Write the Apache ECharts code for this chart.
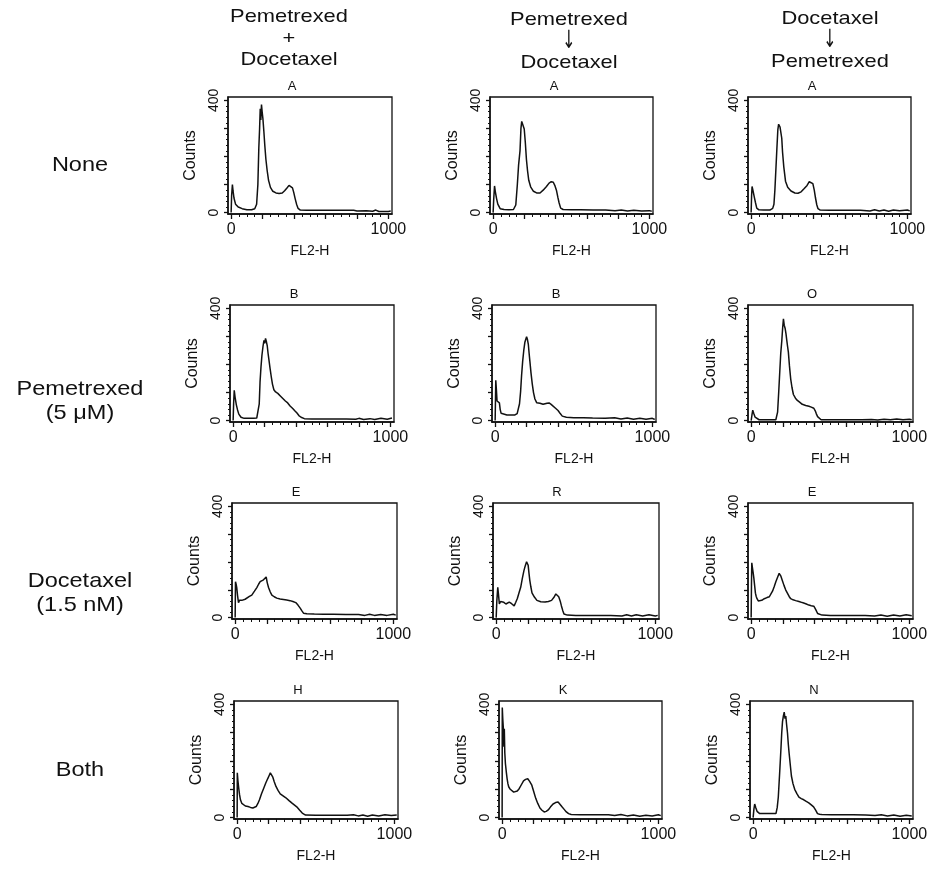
<!DOCTYPE html>
<html><head><meta charset="utf-8">
<script src="https://cdn.jsdelivr.net/npm/echarts@6/dist/echarts.min.js"></script>
<style>html,body{margin:0;padding:0;background:#fff}#c{width:936px;height:871px}</style>
</head><body><div id="c"></div>
<script>
// ---------- DATA ----------
const colHeaders = [['Pemetrexed','+','Docetaxel'],['Pemetrexed','\u2193','Docetaxel'],['Docetaxel','\u2193','Pemetrexed']];
const rowLabels = [['None'],['Pemetrexed','(5 \u03bcM)'],['Docetaxel','(1.5 nM)'],['Both']];
const panelLetters = ['A','A','A','B','B','O','E','R','E','H','K','N'];
const xAxisTitle = 'FL2-H';
const yAxisTitle = 'Counts';
const xTickLabels = [0, 1000];
const yTickLabels = [0, 400];
const xMajorTicks = [0,200,400,600,800,1000];
const xMinorTicks = [50,100,150,250,300,350,450,500,550,650,700,750,850,900,950];
const yMajorTicks = [0,100,200,300,400];
const yMinorTicks = [20,40,60,80,120,140,160,180,220,240,260,280,320,340,360,380];

// Row "None"
const noneCombo = [[0,0],[3,60],[8,100],[12,78],[18,52],[28,30],[45,20],[70,14],[100,10],[130,10],[150,14],[162,30],[170,100],[176,230],[181,300],[185,370],[189,330],[193,385],[197,360],[202,335],[208,290],[214,240],[221,190],[229,150],[238,115],[250,90],[265,76],[285,70],[305,68],[325,70],[340,78],[355,88],[368,97],[380,97],[390,88],[398,72],[407,50],[416,30],[426,15],[440,9],[480,8],[560,8],[640,8],[720,8],[780,8],[790,12],[800,6],[860,7],[900,5],[920,9],[940,4],[1000,4],[1015,6]];
const noneSeqPD = [[0,0],[4,50],[9,95],[14,75],[22,50],[30,30],[45,14],[70,11],[100,10],[130,11],[145,27],[155,100],[163,170],[172,220],[178,300],[183,325],[188,318],[193,322],[199,298],[206,250],[213,190],[220,150],[228,115],[240,92],[258,76],[278,70],[300,70],[320,80],[340,92],[358,105],[372,110],[385,108],[396,95],[405,80],[414,55],[422,35],[432,16],[448,11],[500,10],[560,10],[640,9],[720,9],[780,7],[820,9],[860,6],[900,8],[950,6],[1000,7],[1015,5]];
const noneSeqDP = [[0,0],[3,60],[6,93],[12,78],[20,56],[28,35],[36,16],[50,10],[80,9],[120,9],[138,15],[146,30],[152,80],[158,149],[165,230],[171,296],[176,315],[180,320],[185,305],[190,309],[196,265],[201,216],[209,163],[220,112],[234,90],[255,77],[280,70],[300,69],[320,74],[340,86],[358,97],[372,110],[384,113],[395,103],[404,80],[412,52],[420,28],[428,14],[442,9],[500,8],[600,8],[700,8],[760,6],[790,10],[820,6],[850,9],[880,5],[910,9],[950,7],[1000,9],[1015,6]];
// Row "Pemetrexed (5 uM)"
const pemCombo = [[0,0],[3,60],[7,108],[12,85],[20,57],[28,38],[36,23],[50,12],[70,8],[100,8],[130,8],[150,9],[160,16],[166,60],[171,137],[177,190],[183,232],[190,265],[196,286],[201,275],[206,293],[212,280],[217,266],[222,240],[227,219],[235,185],[242,158],[250,130],[259,110],[270,102],[284,97],[300,88],[316,79],[332,70],[347,63],[362,52],[379,43],[392,35],[406,27],[418,18],[432,12],[453,7],[500,6],[560,6],[640,6],[720,6],[780,5],[800,8],[830,4],[870,7],[900,4],[940,8],[980,5],[1010,9]];
const pemSeqPD = [[0,0],[2,70],[4,144],[8,110],[12,70],[18,65],[27,63],[32,40],[38,26],[50,20],[75,20],[100,20],[126,20],[140,25],[147,30],[155,60],[162,104],[168,160],[175,211],[182,250],[189,279],[195,290],[200,299],[205,290],[211,272],[216,240],[221,211],[228,170],[236,131],[244,100],[253,77],[264,64],[274,57],[285,62],[295,63],[305,58],[316,57],[330,62],[343,63],[356,58],[368,53],[384,44],[400,36],[414,25],[427,16],[453,12],[500,10],[560,10],[620,9],[700,8],[760,10],[800,6],[840,9],[880,5],[920,8],[960,5],[1000,8],[1015,4]];
const pemSeqDP = [[0,0],[5,20],[10,37],[16,26],[25,12],[35,5],[50,3],[80,3],[120,3],[156,3],[162,10],[167,30],[174,100],[181,176],[187,240],[194,287],[199,330],[204,363],[209,340],[215,328],[220,310],[225,287],[230,265],[235,245],[242,195],[250,148],[258,118],[267,93],[280,80],[292,72],[308,65],[323,58],[345,54],[365,51],[380,48],[396,44],[405,35],[412,24],[420,14],[427,7],[442,3],[500,3],[600,3],[700,3],[760,4],[800,2],[840,5],[880,3],[920,6],[960,3],[1000,5],[1015,3]];
// Row "Docetaxel (1.5 nM)"
const docCombo = [[0,0],[2,129],[6,120],[10,108],[15,80],[21,54],[27,62],[32,68],[42,62],[53,61],[63,66],[74,70],[90,76],[105,81],[122,95],[137,108],[148,120],[158,129],[168,130],[179,136],[188,140],[196,146],[203,125],[211,108],[222,92],[232,81],[247,75],[263,70],[284,67],[305,65],[326,63],[347,61],[365,58],[383,54],[397,45],[411,34],[422,24],[432,16],[453,14],[500,13],[560,12],[620,12],[700,11],[780,11],[820,8],[850,12],[880,8],[920,11],[960,8],[1000,12],[1015,9]];
const docSeqPD = [[0,0],[4,60],[10,109],[15,80],[20,49],[28,58],[37,62],[48,55],[61,49],[72,52],[82,56],[97,50],[113,42],[123,55],[133,69],[144,90],[154,109],[164,140],[174,168],[182,185],[191,201],[196,195],[201,188],[206,160],[211,135],[218,110],[225,89],[240,74],[256,62],[280,57],[307,56],[328,58],[348,62],[362,72],[375,85],[384,82],[393,75],[402,60],[410,42],[418,26],[426,13],[447,9],[500,8],[560,8],[640,8],[720,8],[790,6],[820,10],[850,6],[880,10],[920,6],[960,10],[1000,6],[1015,8]];
const docSeqDP = [[0,0],[2,120],[4,197],[9,175],[13,160],[17,142],[22,115],[27,88],[32,76],[37,68],[45,60],[52,54],[67,62],[83,68],[100,72],[115,75],[125,85],[135,95],[146,112],[156,129],[167,145],[177,159],[183,154],[188,149],[198,132],[208,115],[218,100],[229,88],[240,76],[250,68],[265,64],[281,61],[302,58],[323,54],[345,50],[365,45],[380,43],[396,41],[405,32],[413,23],[420,15],[427,9],[448,9],[500,8],[560,8],[640,8],[720,8],[780,6],[820,9],[860,5],[900,9],[940,6],[980,10],[1015,7]];
// Row "Both"
const bothCombo = [[0,0],[1,158],[5,130],[10,104],[15,82],[21,63],[30,50],[38,43],[52,41],[69,39],[85,36],[100,34],[110,36],[121,39],[132,50],[142,63],[155,84],[169,104],[182,122],[194,137],[203,148],[211,158],[218,152],[226,144],[236,127],[247,110],[260,96],[274,84],[292,77],[310,70],[330,60],[351,50],[367,43],[383,36],[398,26],[414,16],[424,11],[435,9],[500,8],[560,8],[640,8],[700,8],[740,10],[770,6],[800,9],[830,5],[860,9],[900,6],[940,10],[980,7],[1015,9]];
const bothSeqPD = [[0,0],[1,389],[4,350],[8,314],[11,250],[14,314],[17,230],[21,191],[27,160],[32,137],[37,120],[42,109],[52,100],[63,93],[74,90],[84,89],[97,94],[109,102],[123,116],[137,130],[150,135],[164,137],[176,128],[189,116],[202,92],[215,68],[228,50],[242,34],[255,26],[269,20],[282,22],[295,27],[310,38],[326,48],[342,53],[358,55],[370,47],[383,38],[397,29],[411,20],[425,14],[442,11],[500,10],[560,10],[620,10],[680,10],[720,7],[760,11],[800,6],[840,9],[880,5],[920,8],[960,6],[1000,10],[1015,7]];
const bothSeqDP = [[0,0],[5,30],[10,48],[17,35],[25,22],[33,17],[42,14],[70,14],[94,14],[120,14],[146,14],[154,35],[161,72],[170,160],[178,243],[183,300],[188,339],[194,360],[199,373],[204,350],[209,359],[214,330],[220,298],[225,260],[230,229],[238,185],[245,147],[255,120],[266,100],[280,85],[293,72],[308,67],[324,63],[340,57],[356,52],[372,45],[387,38],[400,26],[412,14],[425,12],[439,11],[500,10],[560,10],[640,10],[720,9],[780,7],[820,10],[860,6],[900,9],[940,5],[980,8],[1015,6]];

const panels = [noneCombo, noneSeqPD, noneSeqDP, pemCombo, pemSeqPD, pemSeqDP, docCombo, docSeqPD, docSeqDP, bothCombo, bothSeqPD, bothSeqDP];

// ---------- LAYOUT ----------
const FONT = '"Liberation Sans", Arial, Helvetica, sans-serif';
const boxes = [
  [228, 97, 164, 117], [490, 97, 163, 117], [748, 97, 163, 117],
  [230, 305, 164, 117], [492, 305, 164, 117], [748, 305, 165, 117],
  [232, 503, 165, 116], [493, 503, 166, 116], [748, 503, 165, 116],
  [234, 701, 164, 118], [499, 701, 163, 118], [750, 701, 163, 118]
];
const rowCenters = [165, 401, 593, 770];
const colCenters = [289, 569, 830];
const colHeaderY = [[17, 39, 60], [20, 41, 63], [19, 40, 62]];

const chart = echarts.init(document.getElementById('c'), null, {renderer: 'canvas'});
const grid = [], xAxis = [], yAxis = [], series = [], graphic = [];
const black = '#111';
const plain = v => String(v);

panels.forEach((data, i) => {
  const b = boxes[i];
  grid.push({left: b[0], top: b[1], width: b[2], height: b[3], show: true, borderColor: black, borderWidth: 1.3, backgroundColor: 'transparent'});
  xAxis.push({
    gridIndex: i, type: 'value', min: -20, max: 1023, position: 'bottom',
    axisLine: {show: true, onZero: false, lineStyle: {color: black, width: 1.5}},
    axisTick: {show: true, length: 5, customValues: xMajorTicks, lineStyle: {color: black, width: 1.3}},
    axisLabel: {show: true, customValues: xTickLabels, formatter: plain, margin: 8, color: black, fontSize: 16, fontFamily: FONT},
    splitLine: {show: false},
    name: xAxisTitle, nameLocation: 'middle', nameGap: 30,
    nameTextStyle: {color: black, fontSize: 14, fontFamily: FONT}
  });
  xAxis.push({
    gridIndex: i, type: 'value', min: -20, max: 1023, position: 'bottom',
    axisLine: {show: false, onZero: false},
    axisTick: {show: true, length: 3, customValues: xMinorTicks, lineStyle: {color: black, width: 1}},
    axisLabel: {show: false}, splitLine: {show: false}
  });
  yAxis.push({
    gridIndex: i, type: 'value', min: -5, max: 412, position: 'left',
    axisLine: {show: true, onZero: false, lineStyle: {color: black, width: 1.5}},
    axisTick: {show: true, length: 4, customValues: yMajorTicks, lineStyle: {color: black, width: 1.3}},
    axisLabel: {show: true, customValues: yTickLabels, formatter: plain, rotate: 90, margin: 7, color: black, fontSize: 14, fontFamily: FONT},
    splitLine: {show: false},
    name: yAxisTitle, nameLocation: 'middle', nameRotate: 90, nameGap: 29,
    nameTextStyle: {color: black, fontSize: 16, fontFamily: FONT}
  });
  yAxis.push({
    gridIndex: i, type: 'value', min: -5, max: 412, position: 'left',
    axisLine: {show: false, onZero: false},
    axisTick: {show: true, length: 2, customValues: yMinorTicks, lineStyle: {color: black, width: 1}},
    axisLabel: {show: false}, splitLine: {show: false}
  });
  series.push({
    type: 'line', xAxisIndex: 2 * i, yAxisIndex: 2 * i, data: data,
    showSymbol: false, symbol: 'none', silent: true,
    lineStyle: {color: black, width: 1.5}
  });
  graphic.push({
    type: 'text', x: b[0] + 64, y: b[1] - 11,
    style: {text: panelLetters[i], fill: black, font: '13px ' + FONT, align: 'center', verticalAlign: 'middle'}
  });
});

rowLabels.forEach((lines, r) => {
  const n = lines.length;
  lines.forEach((t, k) => {
    graphic.push({
      type: 'text', x: 80, y: rowCenters[r] + (k - (n - 1) / 2) * 24, scaleX: 1.12,
      style: {text: t, fill: black, font: '21px ' + FONT, align: 'center', verticalAlign: 'middle'}
    });
  });
});
colHeaders.forEach((lines, c) => {
  lines.forEach((t, k) => {
    const isArrow = (t === '\u2193');
    graphic.push({
      type: 'text', x: colCenters[c], y: colHeaderY[c][k],
      scaleX: isArrow ? 0.8 : 1.15, scaleY: isArrow ? 1.25 : 1,
      style: {text: t, fill: black, font: isArrow ? '20px "DejaVu Sans"' : '19px ' + FONT, align: 'center', verticalAlign: 'middle'}
    });
  });
});

chart.setOption({
  animation: false,
  backgroundColor: '#fff',
  grid, xAxis, yAxis, series, graphic
});
</script>
</body></html>
